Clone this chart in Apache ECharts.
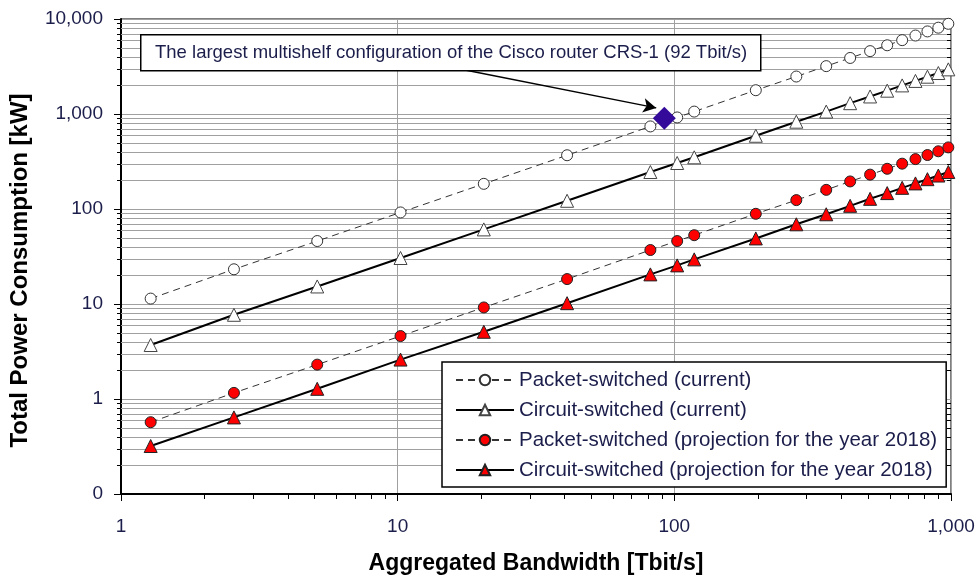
<!DOCTYPE html>
<html>
<head>
<meta charset="utf-8">
<script src="https://cdn.jsdelivr.net/npm/echarts@6/dist/echarts.min.js"></script>
<style>
html,body{margin:0;padding:0;background:#fff;}
#chart{width:979px;height:577px;}
</style>
</head>
<body>
<div id="chart"></div>
<script>
// ---- data ----
const bandwidth     = [1.28, 2.56, 5.12, 10.24, 20.48, 40.96, 81.92, 102.4, 118, 197, 276, 354, 432, 510, 588, 666, 744, 822, 900, 978];
const packetCurrent = [11.4, 23.2, 46, 92, 184, 368, 740, 920, 1060, 1780, 2480, 3190, 3890, 4590, 5290, 5990, 6700, 7400, 8100, 8900];
const circuitCurrent= [3.7, 7.7, 15.3, 30.5, 61, 122, 245, 305, 350, 590, 830, 1060, 1300, 1530, 1760, 2000, 2230, 2470, 2700, 2950];
const packet2018    = [0.57, 1.16, 2.3, 4.6, 9.2, 18.3, 37, 46, 53, 89, 124, 159, 195, 230, 265, 300, 335, 370, 405, 445];
const circuit2018   = [0.32, 0.64, 1.28, 2.6, 5.1, 10.2, 20.5, 25.5, 29.5, 49, 69, 88, 108, 128, 147, 167, 186, 206, 225, 245];
const crsPoint      = [92, 900];
const seriesNames = [
  'Packet-switched (current)',
  'Circuit-switched (current)',
  'Packet-switched (projection for the year 2018)',
  'Circuit-switched (projection for the year 2018)'
];
const annotationText = 'The largest multishelf configuration of the Cisco router CRS-1 (92 Tbit/s)';
const xTitle = 'Aggregated Bandwidth [Tbit/s]';
const yTitle = 'Total Power Consumption [kW]';
const xRange = [1, 1000];
const yRange = [0.1, 10000];
const yMinorTicks = [0.2,0.3,0.4,0.5,0.6,0.7,0.8,0.9, 2,3,4,5,6,7,8,9, 20,30,40,50,60,70,80,90,
                     200,300,400,500,600,700,800,900, 2000,3000,4000,5000,6000,7000,8000,9000];
const xMinorTicks = [2,3,4,5,6,7,8,9, 20,30,40,50,60,70,80,90, 200,300,400,500,600,700,800,900];

const FONT = 'Liberation Sans, Arial, sans-serif';
const NAVY = '#1b1d4a';

function pairs(ys){ return bandwidth.map((x,i)=>[x, ys[i]]); }
function fmt(v){
  if (v < 1) return '0';
  return String(Math.round(v)).replace(/\B(?=(\d{3})+(?!\d))/g, ',');
}
function crisp(v){ return Math.round(v) + 0.5; }

function yMinorRender(params, api){
  const v = api.value(1);
  const l = api.coord([xRange[0], v]);
  const r = api.coord([xRange[1], v]);
  const y = crisp(l[1]);
  return {type:'group', children:[
    {type:'line', shape:{x1:l[0], y1:y, x2:r[0], y2:y}, style:{stroke:'#a0a0a0', lineWidth:1}},
    {type:'line', shape:{x1:l[0]-4, y1:y, x2:l[0], y2:y}, style:{stroke:'#000', lineWidth:1}},
    {type:'line', shape:{x1:r[0]-4, y1:y, x2:r[0], y2:y}, style:{stroke:'#000', lineWidth:1}}
  ]};
}
function xMinorRender(params, api){
  const v = api.value(0);
  const b = api.coord([v, yRange[0]]);
  const x = crisp(b[0]);
  return {type:'line', shape:{x1:x, y1:b[1], x2:x, y2:b[1]+5}, style:{stroke:'#000', lineWidth:1}};
}

const chart = echarts.init(document.getElementById('chart'), null, {renderer:'canvas'});
const option = {
  animation: false,
  backgroundColor: '#fff',
  grid: {left:121, right:28, top:19, bottom:83, show:true, borderColor:'#000', borderWidth:1,
         backgroundColor:'transparent', containLabel:false, outerBoundsMode:'none'},
  xAxis: {
    type:'log', logBase:10, min:xRange[0], max:xRange[1],
    name: xTitle, nameLocation:'middle', nameGap:58,
    nameTextStyle:{fontFamily:FONT, fontSize:23, fontWeight:'bold', color:'#000'},
    axisLine:{show:true, lineStyle:{color:'#000', width:2}},
    axisTick:{show:true, length:7, lineStyle:{color:'#000', width:1}},
    axisLabel:{fontFamily:FONT, fontSize:19, color:NAVY, margin:23, formatter:fmt},
    splitLine:{show:true, lineStyle:{color:'#a0a0a0', width:1}},
    minorTick:{show:false}, minorSplitLine:{show:false}
  },
  yAxis: {
    type:'log', logBase:10, min:yRange[0], max:yRange[1],
    name: yTitle, nameLocation:'middle', nameGap:89, nameRotate:90,
    nameTextStyle:{fontFamily:FONT, fontSize:24, fontWeight:'bold', color:'#000', padding:[0, 28, 0, 0]},
    axisLine:{show:true, lineStyle:{color:'#000', width:2}},
    axisTick:{show:true, length:7, lineStyle:{color:'#000', width:1}},
    axisLabel:{fontFamily:FONT, fontSize:19, color:NAVY, margin:18, formatter:fmt},
    splitLine:{show:true, lineStyle:{color:'#a0a0a0', width:1}},
    minorTick:{show:false}, minorSplitLine:{show:false}
  },
  legend: {
    data: seriesNames,
    orient:'vertical', left:442, top:362,
    padding:[7, 9, 6, 13], itemGap:8, itemWidth:58, itemHeight:13,
    backgroundColor:'#fff', borderColor:'#000', borderWidth:1.5,
    textStyle:{fontFamily:FONT, fontSize:20.5, color:NAVY, lineHeight:22},
    selectedMode:false
  },
  graphic: [
    {type:'rect', left:140, top:34, shape:{width:620, height:36}, style:{fill:'#fff', stroke:'#000', lineWidth:1.5}, z:10},
    {type:'text', left:155, top:43, style:{text:annotationText, font:'18.5px ' + FONT, fill:NAVY}, z:11}
  ],
  series: [
    {type:'custom', name:'yminor', renderItem:yMinorRender, data:yMinorTicks.map(v=>[xRange[0], v]), z:1, silent:true, clip:false, legendHoverLink:false},
    {type:'custom', name:'xminor', renderItem:xMinorRender, data:xMinorTicks.map(v=>[v, yRange[0]]), z:1, silent:true, clip:false, legendHoverLink:false},
    {
      name: seriesNames[0], type:'line', data:pairs(packetCurrent),
      symbol:'circle', symbolSize:11,
      lineStyle:{color:'#333', width:1, type:[7,5]},
      itemStyle:{color:'#fff', borderColor:'#333', borderWidth:1},
      z:3
    },
    {
      name: seriesNames[1], type:'line', data:pairs(circuitCurrent),
      symbol:'triangle', symbolSize:13,
      lineStyle:{color:'#000', width:2},
      itemStyle:{color:'#fff', borderColor:'#444', borderWidth:1},
      z:3
    },
    {
      name: seriesNames[2], type:'line', data:pairs(packet2018),
      symbol:'circle', symbolSize:11,
      lineStyle:{color:'#333', width:1, type:[7,5]},
      itemStyle:{color:'#ff0000', borderColor:'#222', borderWidth:1},
      z:3
    },
    {
      name: seriesNames[3], type:'line', data:pairs(circuit2018),
      symbol:'triangle', symbolSize:13,
      lineStyle:{color:'#000', width:2},
      itemStyle:{color:'#ff0000', borderColor:'#222', borderWidth:1},
      z:3
    },
    {
      name:'CRS-1', type:'scatter', data:[crsPoint],
      symbol:'diamond', symbolSize:23,
      itemStyle:{color:'#330a99', opacity:1},
      z:5,
      markLine:{
        silent:true, symbol:['none','arrow'], symbolSize:[11,13],
        label:{show:false},
        lineStyle:{color:'#000', width:1.5, type:'solid'},
        data:[[{x:465, y:70}, {coord:[86, 1160]}]]
      }
    }
  ]
};
chart.setOption(option);
</script>
</body>
</html>
